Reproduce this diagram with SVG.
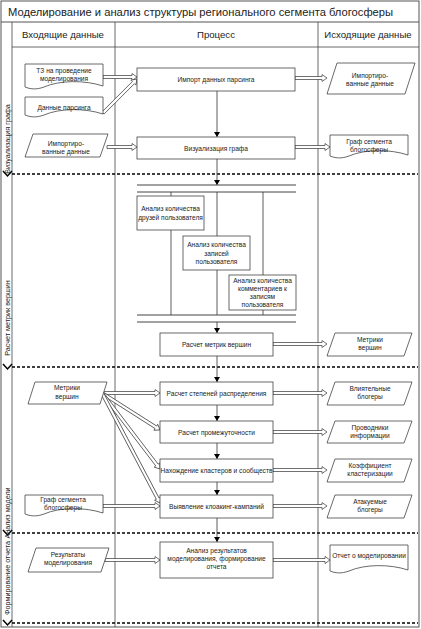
<svg xmlns="http://www.w3.org/2000/svg" width="421" height="629" viewBox="0 0 421 629">
<defs>
<marker id="ah" markerWidth="6" markerHeight="6" refX="5" refY="3" orient="auto" markerUnits="userSpaceOnUse">
<path d="M0,0 L5,3 L0,6 Z" fill="#000"/>
</marker>
<style>
.frame{fill:none;stroke:#555;stroke-width:1}
.lane{fill:none;stroke:#000;stroke-width:1.6;stroke-dasharray:3,2}
.col{fill:none;stroke:#444;stroke-width:0.8}
.box{fill:#fff;stroke:#444;stroke-width:0.8}
.ha{fill:#fff;stroke:#333;stroke-width:0.7}
.ln{fill:none;stroke:#333;stroke-width:0.8}
.bar{fill:none;stroke:#444;stroke-width:1}
.chev{fill:none;stroke:#000;stroke-width:1.5}
text{font-family:"Liberation Sans",Arial,sans-serif;fill:#222}
.t{font-size:11.2px}
.h{font-size:9.6px;text-anchor:middle}
.n{font-size:6.6px;text-anchor:middle}
.lb{font-size:7.2px;text-anchor:middle}
</style>
</defs>
<rect x="0" y="0" width="421" height="629" fill="#fff"/>
<g id="frame">
<rect class="frame" x="1" y="1" width="418" height="626"/>
<line class="frame" x1="1" y1="22" x2="419" y2="22"/>
<line class="col" x1="12" y1="22" x2="12" y2="627"/>
<line class="col" x1="12" y1="47" x2="419" y2="47"/>
<line class="col" x1="115" y1="22" x2="115" y2="627"/>
<line class="col" x1="318" y1="22" x2="318" y2="627"/>
<line class="lane" x1="12" y1="174" x2="418" y2="174"/>
<line class="lane" x1="12" y1="367" x2="418" y2="367"/>
<line class="lane" x1="12" y1="533" x2="418" y2="533"/>
<line class="lane" x1="12" y1="623" x2="418" y2="623"/>
<polyline class="chev" points="3,171 7.5,176 12,171"/>
<polyline class="chev" points="3,364 7.5,369 12,364"/>
<polyline class="chev" points="3,530 7.5,535 12,530"/>
<polyline class="chev" points="3,620 7.5,625 12,620"/>
<text class="t" x="8" y="16">Моделирование и анализ структуры регионального сегмента блогосферы</text>
<text class="h" x="63" y="38">Входящие данные</text>
<text class="h" x="216" y="38">Процесс</text>
<text class="h" x="368" y="38">Исходящие данные</text>
<text class="lb" transform="translate(9.5,139) rotate(-90)">Визуализация графа</text>
<text class="lb" transform="translate(9.5,318) rotate(-90)">Расчет метрик вершин</text>
<text class="lb" transform="translate(9.5,513) rotate(-90)">Анализ модели</text>
<text class="lb" transform="translate(9.5,578) rotate(-90)">Формирование отчета</text>
</g>
<g id="connectors">
<line class="ln" x1="217" y1="91" x2="217" y2="137" marker-end="url(#ah)"/>
<line class="ln" x1="217" y1="159" x2="217" y2="185" marker-end="url(#ah)"/>
<line class="bar" x1="137" y1="185" x2="296" y2="185"/>
<line class="bar" x1="137" y1="192" x2="296" y2="192"/>
<line class="ln" x1="171" y1="192" x2="171" y2="315"/>
<line class="ln" x1="217" y1="192" x2="217" y2="315"/>
<line class="ln" x1="263" y1="192" x2="263" y2="315"/>
<line class="bar" x1="137" y1="315" x2="296" y2="315"/>
<line class="bar" x1="137" y1="322" x2="296" y2="322"/>
<line class="ln" x1="217" y1="322" x2="217" y2="333" marker-end="url(#ah)"/>
<line class="ln" x1="217" y1="356" x2="217" y2="382" marker-end="url(#ah)"/>
<line class="ln" x1="217" y1="405" x2="217" y2="421" marker-end="url(#ah)"/>
<line class="ln" x1="217" y1="443" x2="217" y2="459" marker-end="url(#ah)"/>
<line class="ln" x1="217" y1="482" x2="217" y2="495" marker-end="url(#ah)"/>
<line class="ln" x1="217" y1="518" x2="217" y2="542" marker-end="url(#ah)"/>
<path class="ha" transform="translate(103,77)" d="M0,-1.5H29V-3.5L34,0L29,3.5V1.5H0Z"/>
<path class="ha" transform="translate(103,113) rotate(-45)" d="M0,-1.5H43V-3.5L48,0L43,3.5V1.5H0Z"/>
<path class="ha" transform="translate(107,147)" d="M0,-1.5H25V-3.5L30,0L25,3.5V1.5H0Z"/>
<path class="ha" transform="translate(295,78)" d="M0,-1.5H27V-3.5L32,0L27,3.5V1.5H0Z"/>
<path class="ha" transform="translate(295,147)" d="M0,-1.5H30V-3.5L35,0L30,3.5V1.5H0Z"/>
<path class="ha" transform="translate(273,344)" d="M0,-1.5H49V-3.5L54,0L49,3.5V1.5H0Z"/>
<path class="ha" transform="translate(273,393)" d="M0,-1.5H49V-3.5L54,0L49,3.5V1.5H0Z"/>
<path class="ha" transform="translate(273,432)" d="M0,-1.5H49V-3.5L54,0L49,3.5V1.5H0Z"/>
<path class="ha" transform="translate(273,470)" d="M0,-1.5H49V-3.5L54,0L49,3.5V1.5H0Z"/>
<path class="ha" transform="translate(273,506)" d="M0,-1.5H49V-3.5L54,0L49,3.5V1.5H0Z"/>
<path class="ha" transform="translate(273,560)" d="M0,-1.5H52V-3.5L57,0L52,3.5V1.5H0Z"/>
<path class="ha" transform="translate(102,393)" d="M0,-1.5H53V-3.5L58,0L53,3.5V1.5H0Z"/>
<path class="ha" transform="translate(102,393) rotate(32.5)" d="M0,-1.5H63.8V-3.5L68.8,0L63.8,3.5V1.5H0Z"/>
<path class="ha" transform="translate(102,393) rotate(52.65)" d="M0,-1.5H90.6V-3.5L95.6,0L90.6,3.5V1.5H0Z"/>
<path class="ha" transform="translate(102,393) rotate(62.2)" d="M0,-1.5H119.4V-3.5L124.4,0L119.4,3.5V1.5H0Z"/>
<path class="ha" transform="translate(103,506)" d="M0,-1.5H52V-3.5L57,0L52,3.5V1.5H0Z"/>
<path class="ha" transform="translate(105,560)" d="M0,-1.5H50V-3.5L55,0L50,3.5V1.5H0Z"/>
</g>
<g id="in-tz">
<path class="box" d="M25,64H103V86C85,80 60,80 44,87C36,90 30,89 25,87Z"/>
<text class="n" x="64" y="72.5">ТЗ на проведение</text>
<text class="n" x="64" y="80.5">моделирования</text>
</g>
<g id="in-parsing">
<path class="box" d="M25,97H103V114C85,108 60,108 44,115C36,118 30,117 25,115Z"/>
<text class="n" x="64" y="110">Данные парсинга</text>
</g>
<g id="in-imported">
<polygon class="box" points="33,134 108,134 100,157 25,157"/>
<text class="n" x="66" y="146">Импортиро-</text>
<text class="n" x="66" y="154">ванные данные</text>
</g>
<g id="p-import">
<rect class="box" x="137" y="68" width="158" height="23"/>
<text class="n" x="216" y="81.5">Импорт данных парсинга</text>
</g>
<g id="p-visual">
<rect class="box" x="137" y="137" width="158" height="22"/>
<text class="n" x="216" y="150.5">Визуализация графа</text>
</g>
<g id="out-imported">
<polygon class="box" points="337,63 415,63 405,94 327,94"/>
<text class="n" x="370" y="78">Импортиро-</text>
<text class="n" x="370" y="86">ванные данные</text>
</g>
<g id="out-graph">
<path class="box" d="M330,135H408V155C390,149 365,149 349,156C341,159 335,158 330,156Z"/>
<text class="n" x="369" y="144">Граф сегмента</text>
<text class="n" x="369" y="151.5">блогосферы</text>
</g>
<g id="p-friends">
<rect class="box" x="137" y="196" width="67" height="34"/>
<text class="n" x="170.5" y="211">Анализ количества</text>
<text class="n" x="170.5" y="219.5">друзей пользователя</text>
</g>
<g id="p-posts">
<rect class="box" x="183" y="236" width="67" height="34"/>
<text class="n" x="216.5" y="247">Анализ количества</text>
<text class="n" x="216.5" y="255.5">записей</text>
<text class="n" x="216.5" y="264">пользователя</text>
</g>
<g id="p-comments">
<rect class="box" x="229" y="275" width="67" height="35"/>
<text class="n" x="262.5" y="282.5">Анализ количества</text>
<text class="n" x="262.5" y="290.5">комментариев к</text>
<text class="n" x="262.5" y="298.5">записям</text>
<text class="n" x="262.5" y="306.5">пользователя</text>
</g>
<g id="p-metrics">
<rect class="box" x="160" y="333" width="113" height="23"/>
<text class="n" x="216.5" y="346.5">Расчет метрик вершин</text>
</g>
<g id="out-metrics">
<polygon class="box" points="335,333 412,333 404,356 327,356"/>
<text class="n" x="370" y="342">Метрики</text>
<text class="n" x="370" y="350">вершин</text>
</g>
<g id="in-metrics">
<polygon class="box" points="35,382 107,382 100,404 28,404"/>
<text class="n" x="67" y="390">Метрики</text>
<text class="n" x="67" y="398.5">вершин</text>
</g>
<g id="in-graph">
<path class="box" d="M25,495H103V513C85,507 60,507 44,514C36,517 30,516 25,514Z"/>
<text class="n" x="63" y="502">Граф сегмента</text>
<text class="n" x="63" y="510">блогосферы</text>
</g>
<g id="p-degree">
<rect class="box" x="160" y="382" width="113" height="23"/>
<text class="n" x="216.5" y="396">Расчет степеней распределения</text>
</g>
<g id="p-between">
<rect class="box" x="160" y="421" width="113" height="22"/>
<text class="n" x="216.5" y="434.5">Расчет промежуточности</text>
</g>
<g id="p-clusters">
<rect class="box" x="160" y="459" width="113" height="23"/>
<text class="n" x="216.5" y="472.5">Нахождение кластеров и сообществ</text>
</g>
<g id="p-cloaking">
<rect class="box" x="160" y="495" width="113" height="23"/>
<text class="n" x="216.5" y="508.5">Выявление клоакинг-кампаний</text>
</g>
<g id="out-influential">
<polygon class="box" points="335,382 412,382 404,405 327,405"/>
<text class="n" x="370" y="391">Влиятельные</text>
<text class="n" x="370" y="399">блогеры</text>
</g>
<g id="out-conductors">
<polygon class="box" points="335,421 412,421 404,443 327,443"/>
<text class="n" x="370" y="429.5">Проводники</text>
<text class="n" x="370" y="437.5">информации</text>
</g>
<g id="out-coef">
<polygon class="box" points="335,459 412,459 404,482 327,482"/>
<text class="n" x="370" y="468">Коэффициент</text>
<text class="n" x="370" y="476">кластеризации</text>
</g>
<g id="out-attacked">
<polygon class="box" points="335,495 412,495 404,518 327,518"/>
<text class="n" x="370" y="504">Атакуемые</text>
<text class="n" x="370" y="512">блогеры</text>
</g>
<g id="in-results">
<polygon class="box" points="36,548 109,548 101,572 28,572"/>
<text class="n" x="68" y="557">Результаты</text>
<text class="n" x="68" y="565">моделирования</text>
</g>
<g id="p-report">
<rect class="box" x="160" y="542" width="113" height="36"/>
<text class="n" x="216.5" y="553">Анализ результатов</text>
<text class="n" x="216.5" y="561">моделирования, формирование</text>
<text class="n" x="216.5" y="569">отчета</text>
</g>
<g id="out-report">
<path class="box" d="M330,545H408V570C390,564 365,564 349,571C341,574 335,573 330,571Z"/>
<text class="n" x="369" y="558">Отчет о моделировании</text>
</g>
</svg>
